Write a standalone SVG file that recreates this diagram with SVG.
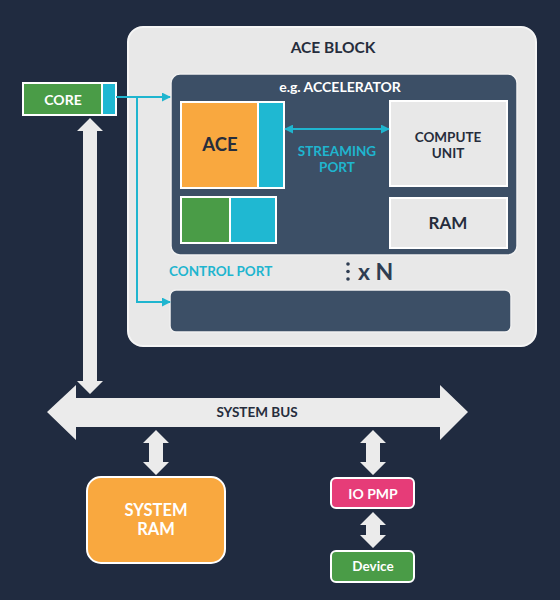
<svg xmlns="http://www.w3.org/2000/svg" width="560" height="600" viewBox="0 0 560 600">
<defs>
<style>
text{font-family:Lato,"Open Sans","Liberation Sans",sans-serif;font-weight:700;text-anchor:middle;dominant-baseline:central}
.dark{fill:#262d3c}
.wh{fill:#ffffff}
.cy{fill:#1fb5cf}
.wb{stroke:#ffffff;stroke-width:2}
.conn{stroke:#1fb5cf;stroke-width:2;fill:none}
.big{fill:#ebebeb}
</style>
<marker id="ah" viewBox="0 0 10 10" refX="9" refY="5" markerWidth="9" markerHeight="9" markerUnits="userSpaceOnUse" orient="auto-start-reverse">
<path d="M0,0 L10,5 L0,10 Z" fill="#1fb5cf"/>
</marker>
</defs>
<rect width="560" height="600" fill="#202b40"/>

<g id="ace-block">
<rect x="128" y="27" width="408" height="319" rx="15" fill="#e8e8e8" stroke="#f5f5f5" stroke-width="2"/>
<text x="333" y="47" font-size="15.5" class="dark">ACE BLOCK</text>
</g>

<g id="accelerator">
<rect x="171" y="74" width="346" height="181" rx="9" fill="#3c4f66" stroke="#f0f0f0" stroke-width="1.5"/>
<text x="340" y="86" font-size="14" class="wh">e.g. ACCELERATOR</text>
</g>

<g id="ace">
<rect x="181" y="102" width="77" height="86" fill="#f9a83f" class="wb"/>
<rect x="258" y="102" width="26" height="86" fill="#1fb8d2" class="wb"/>
<text x="220" y="144" font-size="18.5" class="dark">ACE</text>
</g>

<g id="small-blocks">
<rect x="181" y="197" width="49" height="46" fill="#4a9c47" class="wb"/>
<rect x="230" y="197" width="46" height="46" fill="#1fb8d2" class="wb"/>
</g>

<g id="compute-unit">
<rect x="390" y="101" width="117" height="85" fill="#e8e8e8" class="wb"/>
<text x="448" y="137" font-size="13.5" class="dark">COMPUTE</text>
<text x="448" y="153" font-size="13.5" class="dark">UNIT</text>
</g>

<g id="ram">
<rect x="390" y="198" width="117" height="50" fill="#e8e8e8" class="wb"/>
<text x="448" y="222" font-size="17" class="dark">RAM</text>
</g>

<g id="streaming-port-label">
<text x="337" y="151" font-size="13.5" class="cy">STREAMING</text>
<text x="337" y="167" font-size="13.5" class="cy">PORT</text>
</g>

<g id="control-port-label">
<text x="169" y="271" font-size="13.5" class="cy" style="text-anchor:start">CONTROL PORT</text>
</g>

<g id="xn">
<circle cx="348" cy="264" r="1.8" fill="#2f3d52"/>
<circle cx="348" cy="271.5" r="1.8" fill="#2f3d52"/>
<circle cx="348" cy="279" r="1.8" fill="#2f3d52"/>
<text x="358" y="271" font-size="23" fill="#2f3d52" style="text-anchor:start">x N</text>
</g>

<g id="bottom-bar">
<rect x="170" y="290" width="341" height="42" rx="6" fill="#3c4f66" stroke="#f0f0f0" stroke-width="1.5"/>
</g>

<g id="core">
<rect x="23" y="83" width="79" height="32" fill="#4a9c47" class="wb"/>
<rect x="102" y="83" width="14" height="32" fill="#1fb8d2" class="wb"/>
<text x="63" y="99" font-size="14" class="wh">CORE</text>
</g>

<g id="system-bus">
<polygon points="47,412 76,385 76,398 440,398 440,385 468,412 440,440 440,427 76,427 76,440" class="big"/>
<text x="257" y="412" font-size="13.5" class="dark">SYSTEM BUS</text>
</g>

<g id="system-ram">
<rect x="87" y="477" width="138" height="86" rx="14" fill="#f9a83f" class="wb"/>
<text x="156" y="510" font-size="16.5" class="wh">SYSTEM</text>
<text x="156" y="529" font-size="16.5" class="wh">RAM</text>
</g>

<g id="io-pmp">
<rect x="331" y="478" width="83" height="30" rx="5" fill="#e63c78" class="wb"/>
<text x="373" y="493" font-size="14" class="wh">IO PMP</text>
</g>

<g id="device">
<rect x="331" y="551" width="83" height="31" rx="5" fill="#4a9c47" class="wb"/>
<text x="373" y="566" font-size="13.5" class="wh">Device</text>
</g>

<g id="connectors">
<polygon points="90,118 103,131 97,131 97,381 103,381 90,394 77,381 83,381 83,131 77,131" class="big"/>
<polygon points="156,430 169,443 163,443 163,462 169,462 156,475 143,462 149,462 149,443 143,443" class="big"/>
<polygon points="373,430 386,443 380,443 380,462 386,462 373,475 360,462 366,462 366,443 360,443" class="big"/>
<polygon points="373,512 386,525 380,525 380,535 386,535 373,548 360,535 366,535 366,525 360,525" class="big"/>
<path d="M116,97 H170" class="conn" marker-end="url(#ah)"/>
<path d="M137,97 V302 H170" class="conn" marker-end="url(#ah)"/>
<path d="M285,129 H389" class="conn" marker-start="url(#ah)" marker-end="url(#ah)"/>
</g>
</svg>
